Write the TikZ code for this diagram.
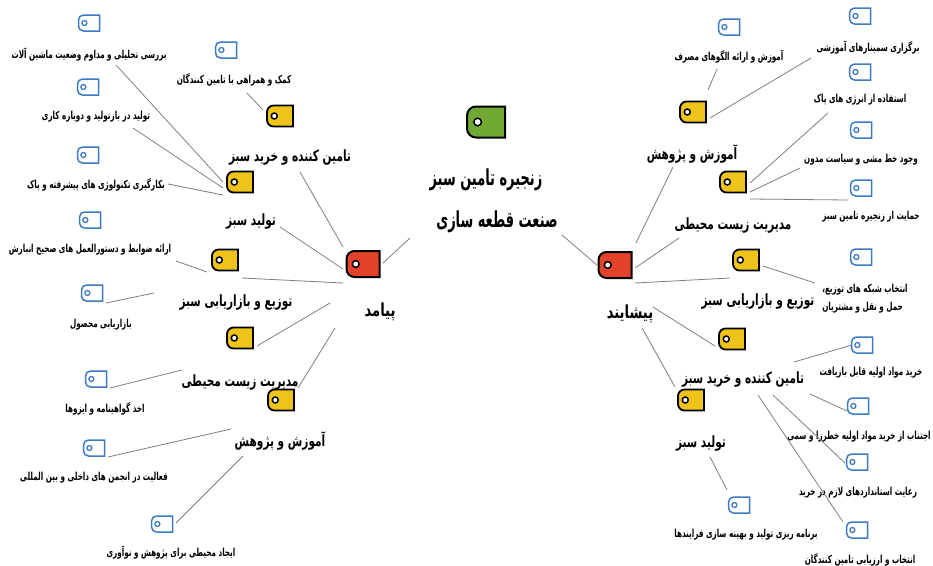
\documentclass[tikz,border=0pt]{standalone}
\usepackage{fontspec}
\TeXXeTstate=1
\newfontfamily\faleaf[Script=Arabic,FakeStretch=0.655]{DejaVu Sans}
\newfontfamily\facat[Script=Arabic,FakeStretch=0.68]{DejaVu Sans}
\newfontfamily\fapole[Script=Arabic,FakeStretch=0.73]{DejaVu Sans}
\newfontfamily\fattl[Script=Arabic,FakeStretch=0.59]{DejaVu Sans}
\usetikzlibrary{calc}
\definecolor{tyellow}{HTML}{EEC41A}
\definecolor{tred}{HTML}{E2432A}
\definecolor{tgreen}{HTML}{6FA833}
\definecolor{tblue}{HTML}{3E7BC4}
\definecolor{linegray}{HTML}{7F7F7F}
\newcommand{\tagshape}[5]{%
  \path[#2] (#1.north east) -- ([xshift=#3]#1.north west)
    arc[start angle=90,end angle=180,radius=#3]
    -- ([yshift=#3]#1.south west)
    arc[start angle=180,end angle=270,radius=#3]
    -- (#1.south east) -- cycle;
  \path[#4] ($(#1.west)!0.28!(#1.east)$) circle[radius=#5];
}
\tikzset{
  conn/.style={draw=linegray, line width=0.8pt},
  gtagbox/.style={inner sep=0pt, outer sep=0pt, minimum width=38pt, minimum height=31pt},
  rtagbox/.style={inner sep=0pt, outer sep=0pt, minimum width=33pt, minimum height=26pt},
  ytagbox/.style={inner sep=0pt, outer sep=0pt, minimum width=26pt, minimum height=21pt},
  btagbox/.style={inner sep=0pt, outer sep=0pt, minimum width=21pt, minimum height=16pt},
  gbody/.style={fill=tgreen, draw=black, line width=2pt},
  rbody/.style={fill=tred, draw=black, line width=2pt},
  ybody/.style={fill=tyellow, draw=black, line width=1.8pt},
  bbody/.style={fill=white, draw=tblue, line width=1.5pt},
  khole/.style={fill=white, draw=black, line width=1.5pt},
  bhole/.style={fill=white, draw=tblue, line width=1.3pt},
  leaf/.style={font=\faleaf\bfseries\fontsize{11}{13}\selectfont, inner sep=1pt},
  cat/.style={font=\facat\bfseries\fontsize{15.5}{18}\selectfont, inner sep=1pt},
  pole/.style={font=\fapole\bfseries\fontsize{18}{20}\selectfont, inner sep=1pt},
  ttl/.style={font=\fattl\bfseries\fontsize{22}{25}\selectfont, inner sep=1pt}
}
\begin{document}
\begin{tikzpicture}[x=1pt,y=-1pt]
\fill[white] (0,0) rectangle (933,565);
\useasboundingbox (0,0) rectangle (933,565);

% ---- centre ----
\node[gtagbox] (gT) at (486,122) {};
\node[ttl] (t1) at (486,180) {\beginR زنجیره تامین سبز\endR};
\node[ttl] (t2) at (497,222) {\beginR صنعت قطعه سازی\endR};

% ---- red tags ----
\node[rtagbox] (rL) at (363,264) {};
\node[rtagbox] (rR) at (615,265) {};
\node[pole] (pL) at (380,312) {\beginR پیامد\endR};
\node[pole] (pR) at (630,314) {\beginR پیشایند\endR};

% ---- yellow tags ----
\node[ytagbox] (yL1) at (280,116) {};
\node[ytagbox] (yL2) at (240,182) {};
\node[ytagbox] (yL3) at (225,260) {};
\node[ytagbox] (yL4) at (240,338) {};
\node[ytagbox] (yL5) at (281,400) {};
\node[ytagbox] (yR1) at (693,112) {};
\node[ytagbox] (yR2) at (733,182) {};
\node[ytagbox] (yR3) at (746,260) {};
\node[ytagbox] (yR4) at (732,339) {};
\node[ytagbox] (yR5) at (691,400) {};

% ---- category labels ----
\node[cat] (cL1) at (290,158) {\beginR تامین کننده و خرید سبز\endR};
\node[cat] (cL2) at (251,221) {\beginR تولید سبز\endR};
\node[cat] (cL3) at (236,302) {\beginR توزیع و بازاریابی سبز\endR};
\node[cat] (cL4) at (240,382) {\beginR مدیریت زیست محیطی\endR};
\node[cat] (cL5) at (280,441) {\beginR آموزش و پژوهش\endR};
\node[cat] (cR1) at (692,154) {\beginR آموزش و پژوهش\endR};
\node[cat] (cR2) at (733,225) {\beginR مدیریت زیست محیطی\endR};
\node[cat] (cR3) at (758,301) {\beginR توزیع و بازاریابی سبز\endR};
\node[cat] (cR4) at (743,379) {\beginR تامین کننده و خرید سبز\endR};
\node[cat] (cR5) at (701,443) {\beginR تولید سبز\endR};

% ---- blue tags ----
\node[btagbox] (bL1) at (89,23) {};
\node[btagbox] (bL2) at (226,50) {};
\node[btagbox] (bL3) at (88,87) {};
\node[btagbox] (bL4) at (88,155) {};
\node[btagbox] (bL5) at (90,220) {};
\node[btagbox] (bL6) at (92,293) {};
\node[btagbox] (bL7) at (96,379) {};
\node[btagbox] (bL8) at (94,448) {};
\node[btagbox] (bL9) at (162,524) {};
\node[btagbox] (bR1) at (729,27) {};
\node[btagbox] (bR2) at (860,16) {};
\node[btagbox] (bR3) at (860,72) {};
\node[btagbox] (bR4) at (861,130) {};
\node[btagbox] (bR5) at (861,188) {};
\node[btagbox] (bR6) at (861,257) {};
\node[btagbox] (bR7) at (862,345) {};
\node[btagbox] (bR8) at (858,406) {};
\node[btagbox] (bR9) at (857,462) {};
\node[btagbox] (bR10) at (857,530) {};
\node[btagbox] (bR11) at (739,505) {};

% ---- leaf labels ----
\node[leaf] (lL1) at (89,55) {\beginR بررسی تحلیلی و مداوم وضعیت ماشین آلات\endR};
\node[leaf] (lL2) at (234,80) {\beginR کمک و همراهی با تامین کنندگان\endR};
\node[leaf] (lL3) at (96,117) {\beginR تولید در بازتولید و دوباره کاری\endR};
\node[leaf] (lL4) at (96,185) {\beginR بکارگیری تکنولوژی های پیشرفته و پاک\endR};
\node[leaf] (lL5) at (90,250) {\beginR ارائه ضوابط و دستورالعمل های صحیح انبارش\endR};
\node[leaf] (lL6) at (101,325) {\beginR بازاریابی محصول\endR};
\node[leaf] (lL7) at (105,409) {\beginR اخذ گواهینامه و ایزوها\endR};
\node[leaf] (lL8) at (94,478) {\beginR فعالیت در انجمن های داخلی و بین المللی\endR};
\node[leaf] (lL9) at (171,553) {\beginR ایجاد محیطی برای پژوهش و نوآوری\endR};
\node[leaf] (lR1) at (729,57) {\beginR آموزش و ارائه الگوهای مصرف\endR};
\node[leaf] (lR2) at (868,48) {\beginR برگزاری سمینارهای آموزشی\endR};
\node[leaf] (lR3) at (860,100) {\beginR استفاده از انرژی های پاک\endR};
\node[leaf] (lR4) at (861,160) {\beginR وجود خط مشی و سیاست مدون\endR};
\node[leaf] (lR5) at (871,217) {\beginR حمایت از زنجیره تامین سبز\endR};
\node[leaf, align=left] (lR6) at (865,299) {\beginR انتخاب شبکه های توزیع،\endR\\[5pt]\beginR حمل و نقل و مشتریان\endR};
\node[leaf] (lR7) at (871,373) {\beginR خرید مواد اولیه قابل بازیافت\endR};
\node[leaf] (lR8) at (859,437) {\beginR اجتناب از خرید مواد اولیه خطرزا و سمی\endR};
\node[leaf] (lR9) at (858,493) {\beginR رعایت استانداردهای لازم در خرید\endR};
\node[leaf] (lR10) at (860,560) {\beginR انتخاب و ارزیابی تامین کنندگان\endR};
\node[leaf] (lR11) at (746,535) {\beginR برنامه ریزی تولید و بهینه سازی فرایندها\endR};

% ---- connectors, left ----
\draw[conn] ([shift={(20,-1)}]rL.center) -- ([shift={(-87,16)}]t2.center);
\draw[conn] ([shift={(10,14)}]cL1.center) -- ([shift={(-20,-17)}]rL.center);
\draw[conn] ([shift={(29,6)}]cL2.center) -- ([shift={(-20,5)}]rL.center);
\draw[conn] ([shift={(17,18)}]yL3.center) -- ([shift={(-20,19)}]rL.center);
\draw[conn] ([shift={(17,8)}]yL4.center) -- ([shift={(-33,39)}]rL.center);
\draw[conn] ([shift={(17,-12)}]yL5.center) -- ([shift={(-28,64)}]rL.center);
\draw[conn] ([shift={(13,13)}]lL2.center) -- ([shift={(-17,-6)}]yL1.center);
\draw[conn] ([shift={(27,10)}]lL1.center) -- ([shift={(-17,0)}]yL2.center);
\draw[conn] ([shift={(37,11)}]lL3.center) -- ([shift={(-17,6)}]yL2.center);
\draw[conn] ([shift={(72,-1)}]lL4.center) -- ([shift={(-17,13)}]yL2.center);
\draw[conn] ([shift={(86,11)}]lL5.center) -- ([shift={(-18,12)}]yL3.center);
\draw[conn] ([shift={(14,10)}]bL6.center) -- ([shift={(-82,-9)}]cL3.center);
\draw[conn] ([shift={(14,9)}]bL7.center) -- ([shift={(-58,-12)}]cL4.center);
\draw[conn] ([shift={(14,9)}]bL8.center) -- ([shift={(-49,-12)}]cL5.center);
\draw[conn] ([shift={(14,-1)}]bL9.center) -- ([shift={(-37,15)}]cL5.center);

% ---- connectors, right ----
\draw[conn] ([shift={(65,13)}]t2.center) -- ([shift={(-18,0)}]rR.center);
\draw[conn] ([shift={(21,-22)}]rR.center) -- ([shift={(-19,13)}]cR1.center);
\draw[conn] ([shift={(20,3)}]rR.center) -- ([shift={(-54,13)}]cR2.center);
\draw[conn] ([shift={(20,18)}]rR.center) -- ([shift={(-16,18)}]yR3.center);
\draw[conn] ([shift={(23,-7)}]pR.center) -- ([shift={(-17,7)}]yR4.center);
\draw[conn] ([shift={(12,14)}]pR.center) -- ([shift={(-16,-13)}]yR5.center);
\draw[conn] ([shift={(-12,12)}]lR1.center) -- ([shift={(15,-22)}]yR1.center);
\draw[conn] ([shift={(-57,10)}]lR2.center) -- ([shift={(17,6)}]yR1.center);
\draw[conn] ([shift={(-32,13)}]lR3.center) -- ([shift={(17,1)}]yR2.center);
\draw[conn] ([shift={(-61,8)}]lR4.center) -- ([shift={(17,10)}]yR2.center);
\draw[conn] ([shift={(17,17)}]yR2.center) -- ([shift={(-13,12)}]bR5.center);
\draw[conn] ([shift={(17,6)}]yR3.center) -- ([shift={(-50,-16)}]lR6.center);
\draw[conn] ([shift={(51,-17)}]cR4.center) -- ([shift={(-10,0)}]bR7.center);
\draw[conn] ([shift={(67,15)}]cR4.center) -- ([shift={(-11,5)}]bR8.center);
\draw[conn] ([shift={(30,16)}]cR4.center) -- ([shift={(-12,1)}]bR9.center);
\draw[conn] ([shift={(15,16)}]cR4.center) -- ([shift={(-14,-8)}]bR10.center);
\draw[conn] ([shift={(9,14)}]cR5.center) -- ([shift={(-12,-15)}]bR11.center);

% ---- tag shapes ----
\tagshape{gT}{gbody}{9pt}{khole}{3.8pt}
\tagshape{rL}{rbody}{8pt}{khole}{3.4pt}
\tagshape{rR}{rbody}{8pt}{khole}{3.4pt}
\foreach \n in {yL1,yL2,yL3,yL4,yL5,yR1,yR2,yR3,yR4,yR5}{\tagshape{\n}{ybody}{6.5pt}{khole}{3pt}}
\foreach \n in {bL1,bL2,bL3,bL4,bL5,bL6,bL7,bL8,bL9,bR1,bR2,bR3,bR4,bR5,bR6,bR7,bR8,bR9,bR10,bR11}{\tagshape{\n}{bbody}{5pt}{bhole}{2.5pt}}
\end{tikzpicture}
\end{document}
